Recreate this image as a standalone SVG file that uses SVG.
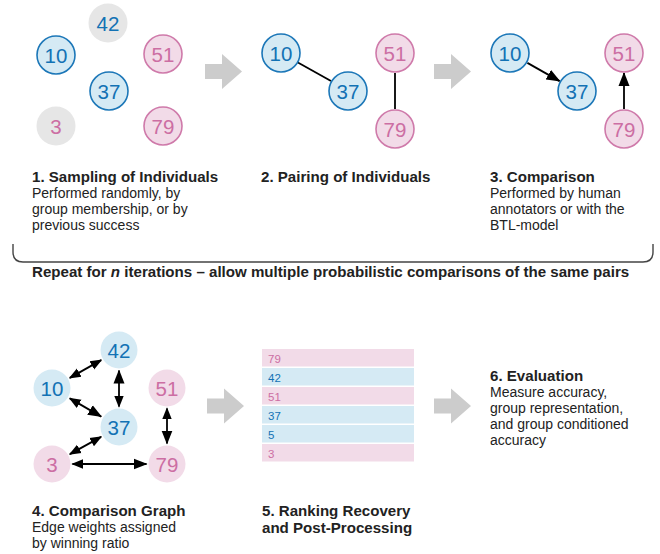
<svg xmlns="http://www.w3.org/2000/svg" width="660" height="554" viewBox="0 0 660 554">
<style>
  text { font-family: "Liberation Sans", Arial, sans-serif; fill: #222; }
  .num { font-size: 20.5px; text-anchor: middle; dominant-baseline: central; }
  .bl { fill: #1372b4; }
  .pk { fill: #cc6ea3; }
  .cb { fill: #d5eaf4; stroke: #1c77b8; stroke-width: 1.6; }
  .cp { fill: #f2dbe8; stroke: #cf7aaa; stroke-width: 1.6; }
  .cg { fill: #e6e6e6; }
  .fb { fill: #d5eaf4; }
  .fp { fill: #f2dbe8; }
  .title { font-size: 15.1px; font-weight: bold; }
  .body { font-size: 14px; }
  .big { fill: #cccccc; }
  .edge { stroke: #000; stroke-width: 1.8; fill: none; }
  .rk { font-size: 11.5px; }
</style>
<defs>
  <marker id="hS" markerUnits="userSpaceOnUse" markerWidth="12" markerHeight="12" refX="9" refY="4" orient="auto-start-reverse" viewBox="0 0 10 8">
    <path d="M0,0 L10,4 L0,8 Z" fill="#000"/>
  </marker>
  <marker id="hL" markerUnits="userSpaceOnUse" markerWidth="14" markerHeight="12" refX="13" refY="5.5" orient="auto-start-reverse" viewBox="0 0 14 11">
    <path d="M0,0 L14,5.5 L0,11 Z" fill="#000"/>
  </marker>
  <path id="bigArrow" d="M0,-7.5 H17 V-17.5 L37,0 L17,17.5 V7.5 H0 Z"/>
</defs>

<!-- big gray process arrows -->
<g id="process-arrows" class="big">
  <use href="#bigArrow" x="205" y="71.5"/>
  <use href="#bigArrow" x="434" y="71.5"/>
  <use href="#bigArrow" x="207" y="406"/>
  <use href="#bigArrow" x="434" y="406"/>
</g>

<!-- connectors -->
<g id="connectors">
  <line class="edge" x1="297" y1="62" x2="331" y2="81"/>
  <line class="edge" x1="395" y1="73" x2="395" y2="109"/>
  <line class="edge" x1="527.4" y1="62.9" x2="559.6" y2="81.1" marker-end="url(#hL)"/>
  <line class="edge" x1="624" y1="109" x2="624" y2="73" marker-end="url(#hL)"/>

  <line class="edge" x1="69.8" y1="377.9" x2="101.2" y2="360.1" marker-start="url(#hS)" marker-end="url(#hS)"/>
  <line class="edge" x1="69.8" y1="398.4" x2="101.2" y2="416.6" marker-start="url(#hS)" marker-end="url(#hL)"/>
  <line class="edge" x1="119" y1="406.5" x2="119" y2="370.5" marker-start="url(#hS)" marker-end="url(#hL)"/>
  <line class="edge" x1="69.9" y1="454.1" x2="101.1" y2="436.9" marker-start="url(#hS)" marker-end="url(#hS)"/>
  <line class="edge" x1="72.5" y1="464" x2="146.5" y2="464" marker-start="url(#hS)" marker-end="url(#hL)"/>
  <line class="edge" x1="167" y1="408.5" x2="167" y2="443.5" marker-start="url(#hS)" marker-end="url(#hL)"/>
</g>

<!-- panel 1 nodes -->
<g id="p1-42"><circle class="cg" cx="108" cy="23" r="19.5"/><text class="num bl" x="108" y="23">42</text></g>
<g id="p1-10"><circle class="cb" cx="56" cy="55" r="19"/><text class="num bl" x="56" y="55">10</text></g>
<g id="p1-51"><circle class="cp" cx="163" cy="54" r="19"/><text class="num pk" x="163" y="54">51</text></g>
<g id="p1-37"><circle class="cb" cx="109" cy="91" r="19"/><text class="num bl" x="109" y="91">37</text></g>
<g id="p1-3"><circle class="cg" cx="56" cy="126" r="19.5"/><text class="num pk" x="56" y="126">3</text></g>
<g id="p1-79"><circle class="cp" cx="163" cy="126" r="19"/><text class="num pk" x="163" y="126">79</text></g>

<!-- panel 2 nodes -->
<g id="p2-10"><circle class="cb" cx="281" cy="53" r="19"/><text class="num bl" x="281" y="53">10</text></g>
<g id="p2-37"><circle class="cb" cx="348" cy="91" r="19"/><text class="num bl" x="348" y="91">37</text></g>
<g id="p2-51"><circle class="cp" cx="395" cy="53" r="19"/><text class="num pk" x="395" y="53">51</text></g>
<g id="p2-79"><circle class="cp" cx="395" cy="129" r="19"/><text class="num pk" x="395" y="129">79</text></g>

<!-- panel 3 nodes -->
<g id="p3-10"><circle class="cb" cx="510" cy="53" r="19"/><text class="num bl" x="510" y="53">10</text></g>
<g id="p3-37"><circle class="cb" cx="577" cy="91" r="19"/><text class="num bl" x="577" y="91">37</text></g>
<g id="p3-51"><circle class="cp" cx="624" cy="53" r="19"/><text class="num pk" x="624" y="53">51</text></g>
<g id="p3-79"><circle class="cp" cx="624" cy="129" r="19"/><text class="num pk" x="624" y="129">79</text></g>

<!-- panel 4 nodes -->
<g id="p4-42"><circle class="fb" cx="119" cy="350" r="18.5"/><text class="num bl" x="119" y="350">42</text></g>
<g id="p4-10"><circle class="fb" cx="52" cy="388" r="18.5"/><text class="num bl" x="52" y="388">10</text></g>
<g id="p4-51"><circle class="fp" cx="167" cy="388" r="18.5"/><text class="num pk" x="167" y="388">51</text></g>
<g id="p4-37"><circle class="fb" cx="119" cy="427" r="18.5"/><text class="num bl" x="119" y="427">37</text></g>
<g id="p4-3"><circle class="fp" cx="52" cy="464" r="18.5"/><text class="num pk" x="52" y="464">3</text></g>
<g id="p4-79"><circle class="fp" cx="167" cy="464" r="18.5"/><text class="num pk" x="167" y="464">79</text></g>

<!-- ranking list -->
<g id="ranking">
  <rect class="fp" x="262" y="349" width="152" height="17.5"/><text class="rk pk" x="268" y="362.5">79</text>
  <rect class="fb" x="262" y="368" width="152" height="17.5"/><text class="rk bl" x="268" y="381.5">42</text>
  <rect class="fp" x="262" y="387" width="152" height="17.5"/><text class="rk pk" x="268" y="400.5">51</text>
  <rect class="fb" x="262" y="406" width="152" height="17.5"/><text class="rk bl" x="268" y="419.5">37</text>
  <rect class="fb" x="262" y="425" width="152" height="17.5"/><text class="rk bl" x="268" y="438.5">5</text>
  <rect class="fp" x="262" y="444" width="152" height="17.5"/><text class="rk pk" x="268" y="457.5">3</text>
</g>

<!-- labels -->
<g id="label-1">
  <text class="title" x="32" y="182">1. Sampling of Individuals</text>
  <text class="body" x="32" y="198">Performed randomly, by</text>
  <text class="body" x="32" y="214">group membership, or by</text>
  <text class="body" x="32" y="230">previous success</text>
</g>
<g id="label-2">
  <text class="title" x="261" y="182">2. Pairing of Individuals</text>
</g>
<g id="label-3">
  <text class="title" x="490" y="182">3. Comparison</text>
  <text class="body" x="490" y="198">Performed by human</text>
  <text class="body" x="490" y="214">annotators or with the</text>
  <text class="body" x="490" y="230">BTL-model</text>
</g>

<g id="repeat-brace">
  <path d="M13,244 V252 Q13,262 23,262 H643 Q653,262 653,252 V244" fill="none" stroke="#444" stroke-width="1.4"/>
  <text class="title" x="32" y="277">Repeat for <tspan font-style="italic">n</tspan> iterations – allow multiple probabilistic comparisons of the same pairs</text>
</g>

<g id="label-4">
  <text class="title" x="32" y="516">4. Comparison Graph</text>
  <text class="body" x="32" y="532">Edge weights assigned</text>
  <text class="body" x="32" y="548">by winning ratio</text>
</g>
<g id="label-5">
  <text class="title" x="262" y="516">5. Ranking Recovery</text>
  <text class="title" x="262" y="533">and Post-Processing</text>
</g>
<g id="label-6">
  <text class="title" x="490" y="381">6. Evaluation</text>
  <text class="body" x="490" y="397">Measure accuracy,</text>
  <text class="body" x="490" y="413">group representation,</text>
  <text class="body" x="490" y="429">and group conditioned</text>
  <text class="body" x="490" y="445">accuracy</text>
</g>
</svg>
